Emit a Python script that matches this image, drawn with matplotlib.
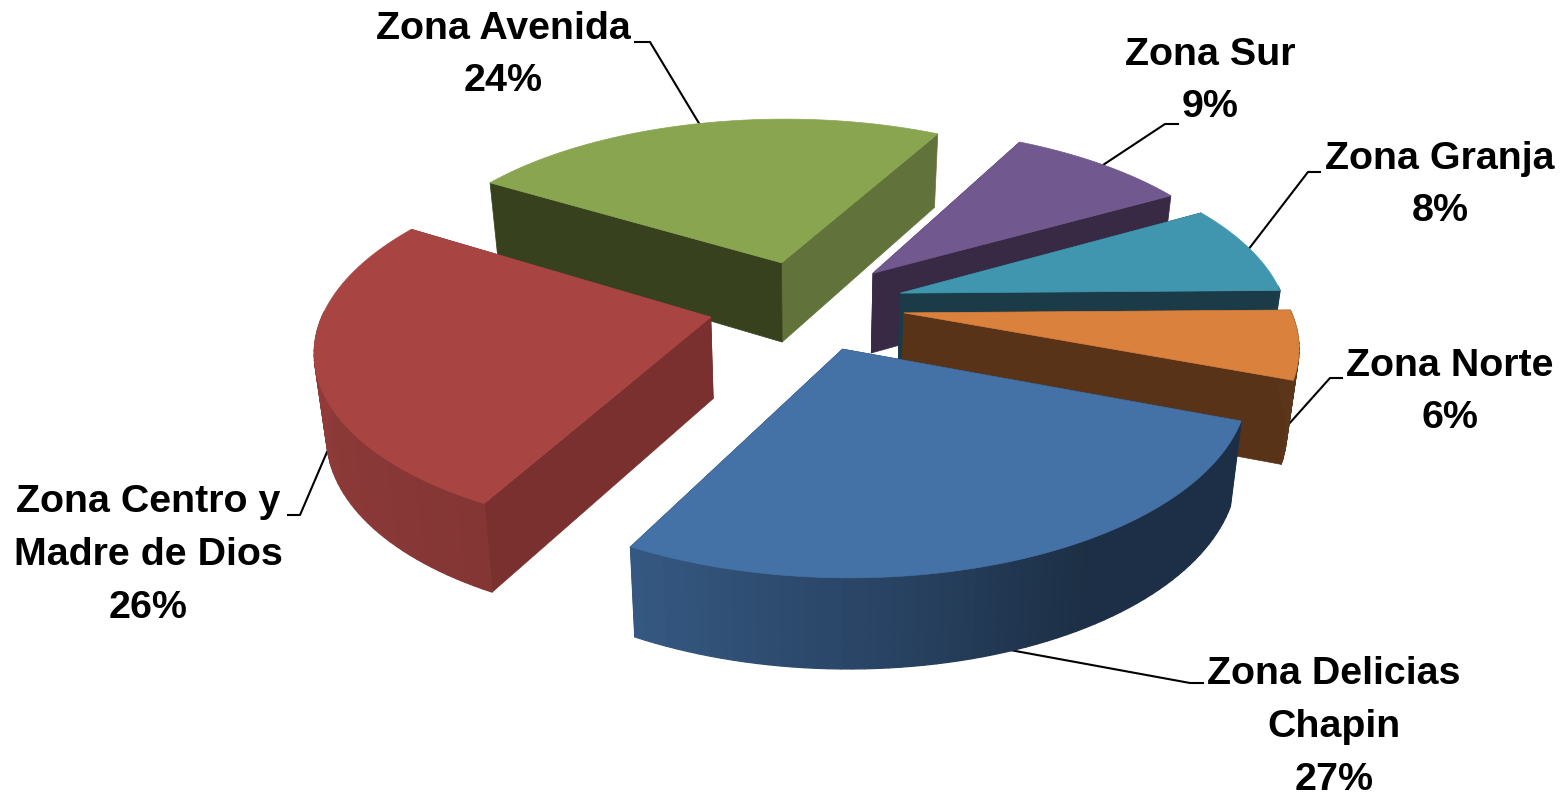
import numpy as np
import matplotlib
matplotlib.use("Agg")
import matplotlib.pyplot as plt
from matplotlib.patches import Polygon

# clockwise from the back left of the pie
zonas = ["Zona Avenida", "Zona Sur", "Zona Granja", "Zona Norte",
         "Zona Delicias\nChapin", "Zona Centro y\nMadre de Dios"]
valores = [24, 9, 8, 6, 27, 26]

color_top = ["#8aa550", "#71588f", "#4096ae", "#d9813d", "#4471a6", "#a84543"]
color_a = ["#37411e", "#382945", "#1a3b47", "#583318", "#1b2e47", "#7a302e"]
color_b = ["#61733a", "#382945", "#1a3b47", "#583318", "#1b2e47", "#7a302e"]
orden = [0, 1, 2, 3, 5, 4]  # back to front

label_xy = [(503, 55), (1210, 81), (1440, 185), (1450, 392), (1334, 727), (148, 555)]
leaders = [[(700, 125), (650, 42), (635, 42)],
           [(1103, 165), (1165, 124), (1178, 124)],
           [(1248, 250), (1308, 172), (1320, 172)],
           [(1288, 425), (1330, 378), (1342, 378)],
           [(1010, 650), (1190, 683), (1203, 683)],
           [(327, 452), (300, 515), (288, 515)]]

# camera
cx, cy = 806.5, 305
S, A, p = 385, 178, 0.155
explode = 0.255
alto, p_alto, encoge = 81, 0.09, 0.975
start = -58.5

shade_ang = [100, 150, 170, 207, 270, 320]
shade_val = [0.42, 0.42, 0.56, 0.78, 0.87, 0.9]


def top_xy(X, Z):
    d = 1 + p * Z
    return cx + S * X / d, cy - A * Z / d


def bottom_xy(X, Z):
    x, y = top_xy(X, Z)
    return cx + (x - cx) * encoge, y + alto / (1 + p_alto * Z)


def dark(col, f):
    return tuple(c * f for c in matplotlib.colors.to_rgb(col))


fig = plt.figure(figsize=(15.68, 7.99), dpi=100)
ax = fig.add_axes([0, 0, 1, 1])
ax.set_xlim(0, 1568)
ax.set_ylim(799, 0)
ax.axis("off")

bordes = start + np.cumsum([0] + valores) * 3.6

for i in orden:
    a, b = bordes[i], bordes[i + 1]
    m = np.radians((a + b) / 2)
    ax0, az0 = explode * np.sin(m), explode * np.cos(m)
    th = np.radians(np.linspace(a, b, int((b - a) / 1.5) + 2))
    X = ax0 + np.sin(th)
    Z = az0 + np.cos(th)
    top = np.column_stack(top_xy(X, Z))
    bot = np.column_stack(bottom_xy(X, Z))
    top0 = top_xy(ax0, az0)
    bot0 = bottom_xy(ax0, az0)

    # radial faces, then the part of the wall that looks at us, then the top
    for col, t, bt in [(color_b[i], top[-1], bot[-1]), (color_a[i], top[0], bot[0])]:
        ax.add_patch(Polygon([top0, t, bt, bot0], fc=col, ec=col, lw=0.5, zorder=i + 1))
    for k in range(len(th) - 1):
        mid = (th[k] + th[k + 1]) / 2
        if np.cos(mid) > 0.03:
            continue
        col = dark(color_top[i], np.interp(np.degrees(mid) % 360, shade_ang, shade_val))
        ax.add_patch(Polygon([top[k], top[k + 1], bot[k + 1], bot[k]], fc=col, ec=col, lw=0.9, zorder=i + 1))
    ax.add_patch(Polygon(np.vstack([[top0], top]), fc=color_top[i], ec=color_top[i], lw=0.5, zorder=i + 1))

for zona, v, (x, y), ld in zip(zonas, valores, label_xy, leaders):
    ax.text(x, y, "%s\n%d%%" % (zona, v), ha="center", va="center", color="black",
            family="Liberation Sans", weight="bold",
            fontsize=28.4, linespacing=1.6, zorder=20)
    ax.plot([q[0] for q in ld], [q[1] for q in ld], color="black", lw=1.5, zorder=0.5)

fig.savefig("out.png", dpi=100, facecolor="white")
